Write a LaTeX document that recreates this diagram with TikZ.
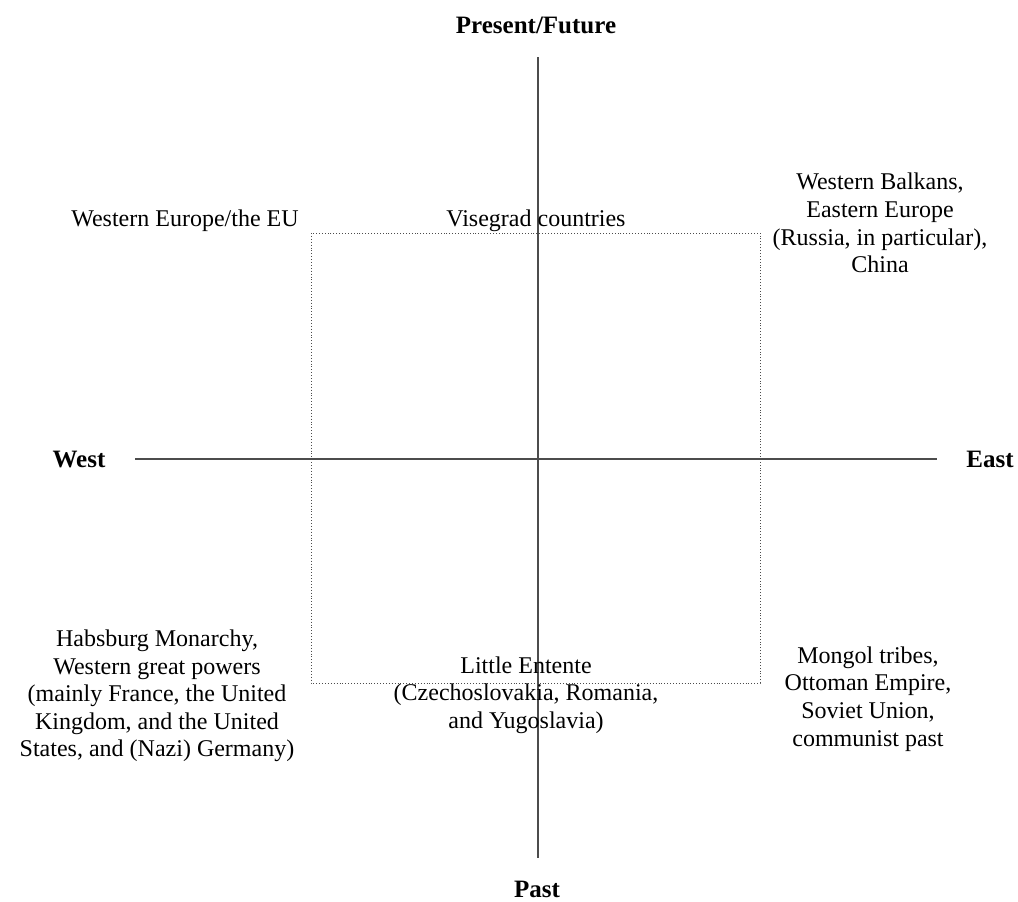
\documentclass[tikz,border=0pt]{standalone}
\usepackage{fontspec}
\setmainfont{Liberation Serif}
\begin{document}
\begin{tikzpicture}[x=1pt,y=-1pt,
  lbl/.style={align=center,font=\fontsize{24}{27.6}\selectfont,inner sep=0pt},
  axislbl/.style={font=\fontsize{25}{28}\selectfont\bfseries,inner sep=0pt},
  axis/.style={draw=black!70,line width=1.2pt},
  zone/.style={draw=black!70,dotted,line width=0.9pt}]
\useasboundingbox (0,0) rectangle (1018,902);
% axes
\coordinate (n) at (538,57);
\coordinate (s) at (538,858);
\coordinate (w) at (135,459);
\coordinate (e) at (937,459);
\draw[axis] (n) -- (s);
\draw[axis] (w) -- (e);
% central dotted zone
\draw[zone] (311,233) rectangle (760,683);
% axis labels
\node[axislbl] (future) at (536,25) {Present/Future};
\node[axislbl] (past) at (537,889) {Past};
\node[axislbl] (west) at (79,459) {West};
\node[axislbl] (east) at (990,459) {East};
% quadrant labels
\node[lbl] (weu) at (185,221) {Western Europe/the EU};
\node[lbl] (v4) at (536,221) {Visegrad countries};
\node[lbl] (ne) at (880,223) {Western Balkans,\\Eastern Europe\\(Russia, in particular),\\China};
\node[lbl] (sw) at (157,696) {Habsburg Monarchy,\\Western great powers\\(mainly France, the United\\Kingdom, and the United\\States, and (Nazi) Germany)};
\node[lbl] (le) at (526,695) {Little Entente\\(Czechoslovakia, Romania,\\and Yugoslavia)};
\node[lbl] (se) at (868,699) {Mongol tribes,\\Ottoman Empire,\\Soviet Union,\\communist past};
\end{tikzpicture}
\end{document}
